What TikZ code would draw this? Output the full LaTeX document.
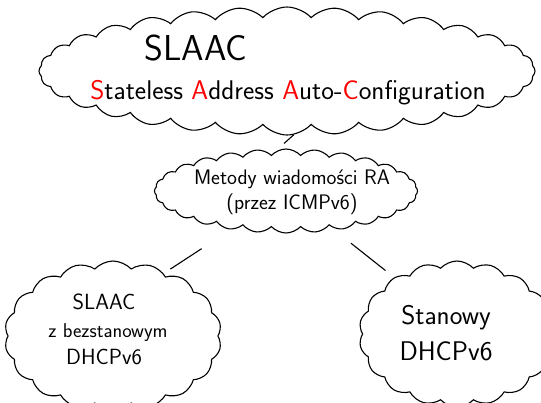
\documentclass[tikz,border=0pt]{standalone}
\usetikzlibrary{shapes.symbols}
\begin{document}
\begin{tikzpicture}[
	x=1pt, y=-1pt,
	bubble/.style={ cloud, draw, line width=1.1pt, cloud ignores aspect, cloud puff arc=95, inner sep=0pt },
	hand/.style={ font=\sffamily, inner sep=1pt, align=center },
	link/.style={ line width=1.1pt }
]
\useasboundingbox (0,0) rectangle (541,402);

\node at (287,71) (slaac) [bubble, cloud puffs=32, minimum width=496pt, minimum height=128pt] {};
\node at (286,191) (ra) [bubble, cloud puffs=28, minimum width=263pt, minimum height=84pt] {};
\node at (113,336) (stateless) [bubble, cloud puffs=18, minimum width=217pt, minimum height=150pt] {};
\node at (457,334) (stateful) [bubble, cloud puffs=18, minimum width=196pt, minimum height=146pt] {};

\node at (196,48) (slaacname) [hand, font=\sffamily\fontsize{36}{40}\selectfont] {SLAAC};
\node at (288,93) (slaacfull) [hand, font=\sffamily\fontsize{27}{32}\selectfont]
	{\textcolor{red}{S}tateless \textcolor{red}{A}ddress \textcolor{red}{A}uto-\textcolor{red}{C}onfiguration};
\node at (292,192) (ratext) [hand, font=\sffamily\fontsize{21}{25}\selectfont]
	{Metody wiadomości RA\\(przez ICMPv6)};
\node at (104,302) (statelessname) [hand, font=\sffamily\fontsize{22}{26}\selectfont] {SLAAC};
\node at (108,333) (statelessmid) [hand, font=\sffamily\fontsize{20}{24}\selectfont] {z bezstanowym};
\node at (104,357) (statelessdhcp) [hand, font=\sffamily\fontsize{22}{26}\selectfont] {DHCPv6};
\node at (446,333) (statefultext) [hand, font=\sffamily\fontsize{27}{36}\selectfont]
	{Stanowy\\DHCPv6};

\draw[link, shorten >=14pt] (slaac.-84) -- (ra.108);
\draw[link, shorten <=35pt, shorten >=8pt] (ra.215) -- (stateless.51);
\draw[link, shorten <=28pt, shorten >=11pt] (ra.-39) -- (stateful.138);

\end{tikzpicture}
\end{document}
